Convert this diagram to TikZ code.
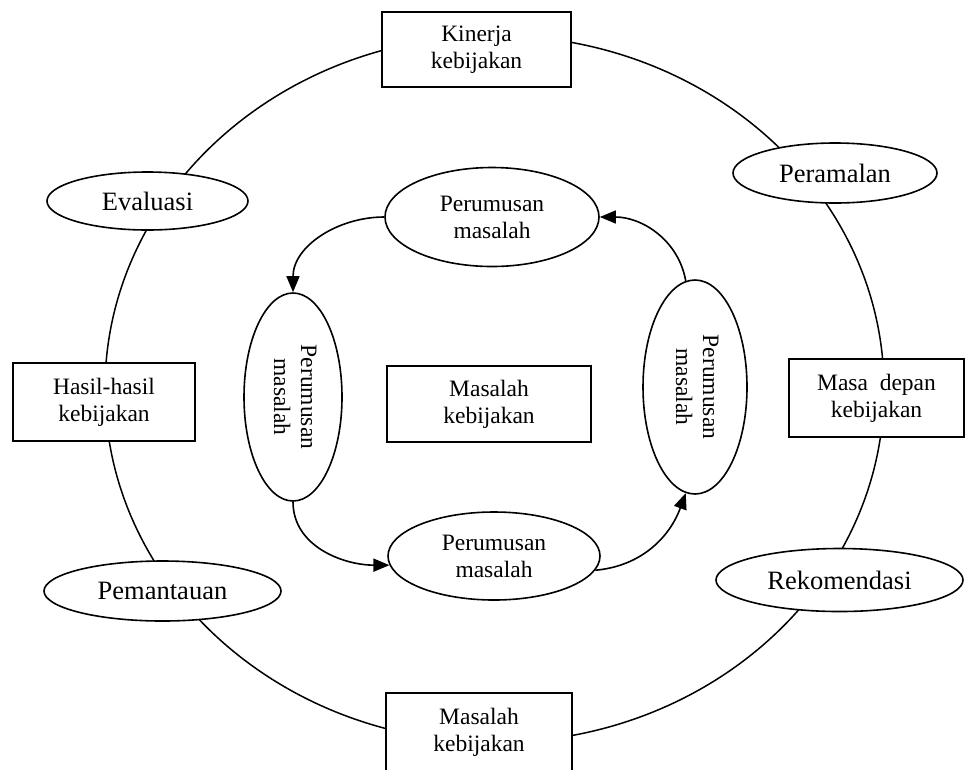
\documentclass[tikz,border=0pt]{standalone}
\usepackage{fontspec}
\setmainfont{Liberation Serif}
\usetikzlibrary{shapes.geometric,arrows.meta}
\begin{document}
\begin{tikzpicture}[x=1pt,y=-1pt,
  boxnode/.style={draw, fill=white, rectangle, line width=1.6pt, inner sep=0pt,
    align=center, font=\fontsize{23.5}{27}\selectfont},
  outeroval/.style={draw, fill=white, ellipse, line width=1.6pt, inner sep=0pt,
    font=\fontsize{26.5}{30}\selectfont},
  inneroval/.style={draw, fill=white, ellipse, line width=1.6pt, inner sep=0pt,
    align=center, font=\fontsize{23.5}{27}\selectfont},
  flow/.style={line width=1.6pt, -{Triangle[length=16pt,width=13pt]}}
]
\useasboundingbox (0,0) rectangle (965,769);

% outer cycle
\draw[line width=1.5pt] (494.5,389) ellipse [x radius=389.5, y radius=353.5];

% boxes on the outer cycle
\node[boxnode, minimum width=189pt, minimum height=75pt] (kinerja) at (476.5,49.5) {Kinerja\\kebijakan};
\node[boxnode, minimum width=182pt, minimum height=78pt] (hasil) at (104,402) {Hasil-hasil\\kebijakan};
\node[boxnode, minimum width=175pt, minimum height=78pt] (masadepan) at (876.5,398) {Masa\ \ depan\\kebijakan};
\node[boxnode, minimum width=186pt, minimum height=78pt] (masalahbawah) at (479,732) {Masalah\\kebijakan};

% ovals on the outer cycle
\node[outeroval, minimum width=201pt, minimum height=58pt] (evaluasi) at (147.5,201) {Evaluasi};
\node[outeroval, minimum width=204pt, minimum height=60pt] (peramalan) at (835,173) {Peramalan};
\node[outeroval, minimum width=237pt, minimum height=60pt] (pemantauan) at (162.5,591) {Pemantauan};
\node[outeroval, minimum width=247pt, minimum height=63pt] (rekomendasi) at (839.5,580) {Rekomendasi};

% inner cycle
\node[boxnode, minimum width=204pt, minimum height=76pt] (masalahtengah) at (489,404) {Masalah\\kebijakan};
\node[inneroval, minimum width=214pt, minimum height=99pt] (atas) at (492,217) {Perumusan\\masalah};
\node[inneroval, minimum width=212pt, minimum height=88pt] (bawah) at (494,556) {Perumusan\\masalah};
\node[inneroval, minimum width=98pt, minimum height=208pt] (kiri) at (293,397)
  {\rotatebox{-90}{\begin{tabular}{@{}c@{}}Perumusan\\masalah\end{tabular}}};
\node[inneroval, minimum width=104pt, minimum height=214pt] (kanan) at (695,387)
  {\rotatebox{-90}{\begin{tabular}{@{}c@{}}Perumusan\\masalah\end{tabular}}};

% arrows of the inner cycle
\draw[flow] (atas.west) to[out=180, in=90] (kiri.north);
\draw[flow] (kiri.south) to[out=-90, in=180] (bawah.185);
\draw[flow] (bawah.-8) to[out=5, in=-110] (kanan.-95);
\draw[flow] (kanan.95) to[out=100, in=0] (atas.east);
\end{tikzpicture}
\end{document}
